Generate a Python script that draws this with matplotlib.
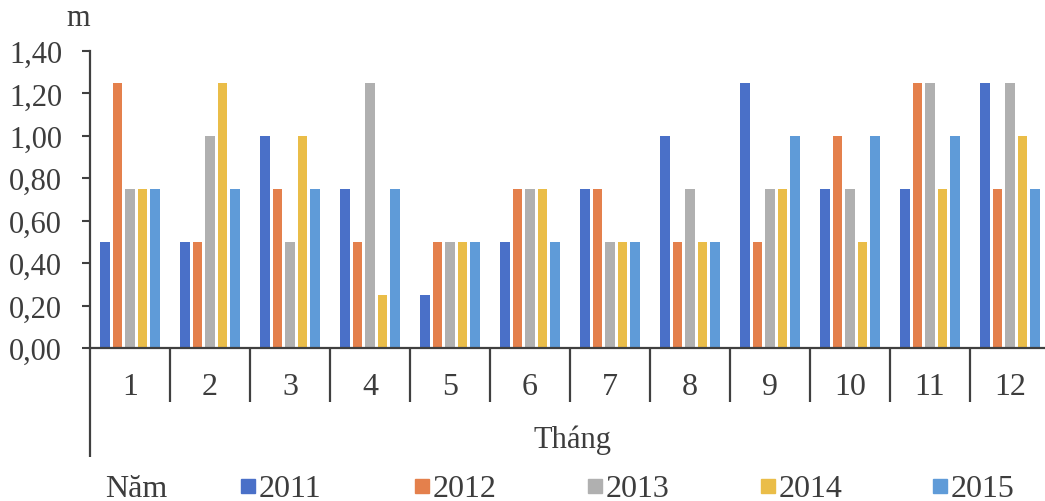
import matplotlib
matplotlib.use("Agg")
import matplotlib.pyplot as plt
from matplotlib.patches import Rectangle
from matplotlib.ticker import FuncFormatter, MultipleLocator
import matplotlib.transforms as mtransforms
import numpy as np

# Monthly values (m) per year
months = ["1", "2", "3", "4", "5", "6", "7", "8", "9", "10", "11", "12"]
years = ["2011", "2012", "2013", "2014", "2015"]
v2011 = [0.50, 0.50, 1.00, 0.75, 0.25, 0.50, 0.75, 1.00, 1.25, 0.75, 0.75, 1.25]
v2012 = [1.25, 0.50, 0.75, 0.50, 0.50, 0.75, 0.75, 0.50, 0.50, 1.00, 1.25, 0.75]
v2013 = [0.75, 1.00, 0.50, 1.25, 0.50, 0.75, 0.50, 0.75, 0.75, 0.75, 1.25, 1.25]
v2014 = [0.75, 1.25, 1.00, 0.25, 0.50, 0.75, 0.50, 0.50, 0.75, 0.50, 0.75, 1.00]
v2015 = [0.75, 0.75, 0.75, 0.75, 0.50, 0.50, 0.50, 0.50, 1.00, 1.00, 1.00, 0.75]
series = [v2011, v2012, v2013, v2014, v2015]
colors = ["#4a70c8", "#e4804c", "#b0b0b0", "#eabd48", "#5f9bd8"]

plt.rcParams["font.family"] = ["Liberation Serif", "DejaVu Serif"]
plt.rcParams["font.size"] = 22
txt_color = "#3d3d3d"
line_color = "#404040"

W, H = 1045, 502
fig = plt.figure(figsize=(W / 100, H / 100), dpi=100)

# axes box in pixels
x0, x1, y_top, y_bot = 90, 1050, 52, 349
ax = fig.add_axes([x0 / W, 1 - y_bot / H, (x1 - x0) / W, (y_bot - y_top) / H])

n = len(years)
step = 0.155
width = 0.12
x = np.arange(len(months))
for i, (vals, c) in enumerate(zip(series, colors)):
    ax.bar(x + (i - (n - 1) / 2) * step, vals, width=width, color=c, zorder=2)

ax.set_xlim(-0.5, len(months) - 0.5)
ax.set_ylim(0, 1.40)
ax.yaxis.set_major_locator(MultipleLocator(0.2))
ax.yaxis.set_major_formatter(FuncFormatter(lambda v, _: f"{v:.2f}".replace(".", ",")))
ax.tick_params(axis="y", direction="out", length=6, width=1.5, color=line_color,
               labelcolor=txt_color, pad=14)
ax.set_xticks([])

for s in ["top", "right"]:
    ax.spines[s].set_visible(False)
for s in ["left", "bottom"]:
    ax.spines[s].set_color(line_color)
    ax.spines[s].set_linewidth(1.6)

ax_h = y_bot - y_top
trans = mtransforms.blended_transform_factory(ax.transData, ax.transAxes)

# category separators below the axis
sep_low = -(403 - y_bot) / ax_h
for b in np.arange(0.5, len(months) - 0.5 + 1e-9, 1.0):
    ax.plot([b, b], [0, sep_low], transform=trans, color=line_color, lw=1.6,
            clip_on=False, solid_capstyle="butt")
# left axis line continues down to the axis title
ax.plot([-0.5, -0.5], [0, -(458 - y_bot) / ax_h], transform=trans, color=line_color,
        lw=1.6, clip_on=False, solid_capstyle="butt")

# month labels
lab_y = -(395 - y_bot) / ax_h
for xi, m in zip(x, months):
    ax.text(xi, lab_y, m, transform=trans, ha="center", va="baseline",
            color=txt_color, fontsize=23)

fig.text(78 / W, 1 - 19 / H, "m", ha="center", va="center", color=txt_color)
fig.text(573 / W, 1 - 448 / H, "Tháng", ha="center", va="baseline", color=txt_color)

# legend row
base = 1 - 497 / H
fig.text(105 / W, base, "Năm", ha="left", va="baseline", color=txt_color, fontsize=23)
sq = 14
lefts = [241, 415, 588, 761, 933]
for lx, yr, c in zip(lefts, years, colors):
    fig.patches.append(Rectangle((lx / W, 1 - 494 / H), sq / W, sq / H,
                                 transform=fig.transFigure, color=c, figure=fig))
    fig.text((lx + 18) / W, base, yr, ha="left", va="baseline", color=txt_color,
             fontsize=23)

fig.savefig("out.png", dpi=100)
